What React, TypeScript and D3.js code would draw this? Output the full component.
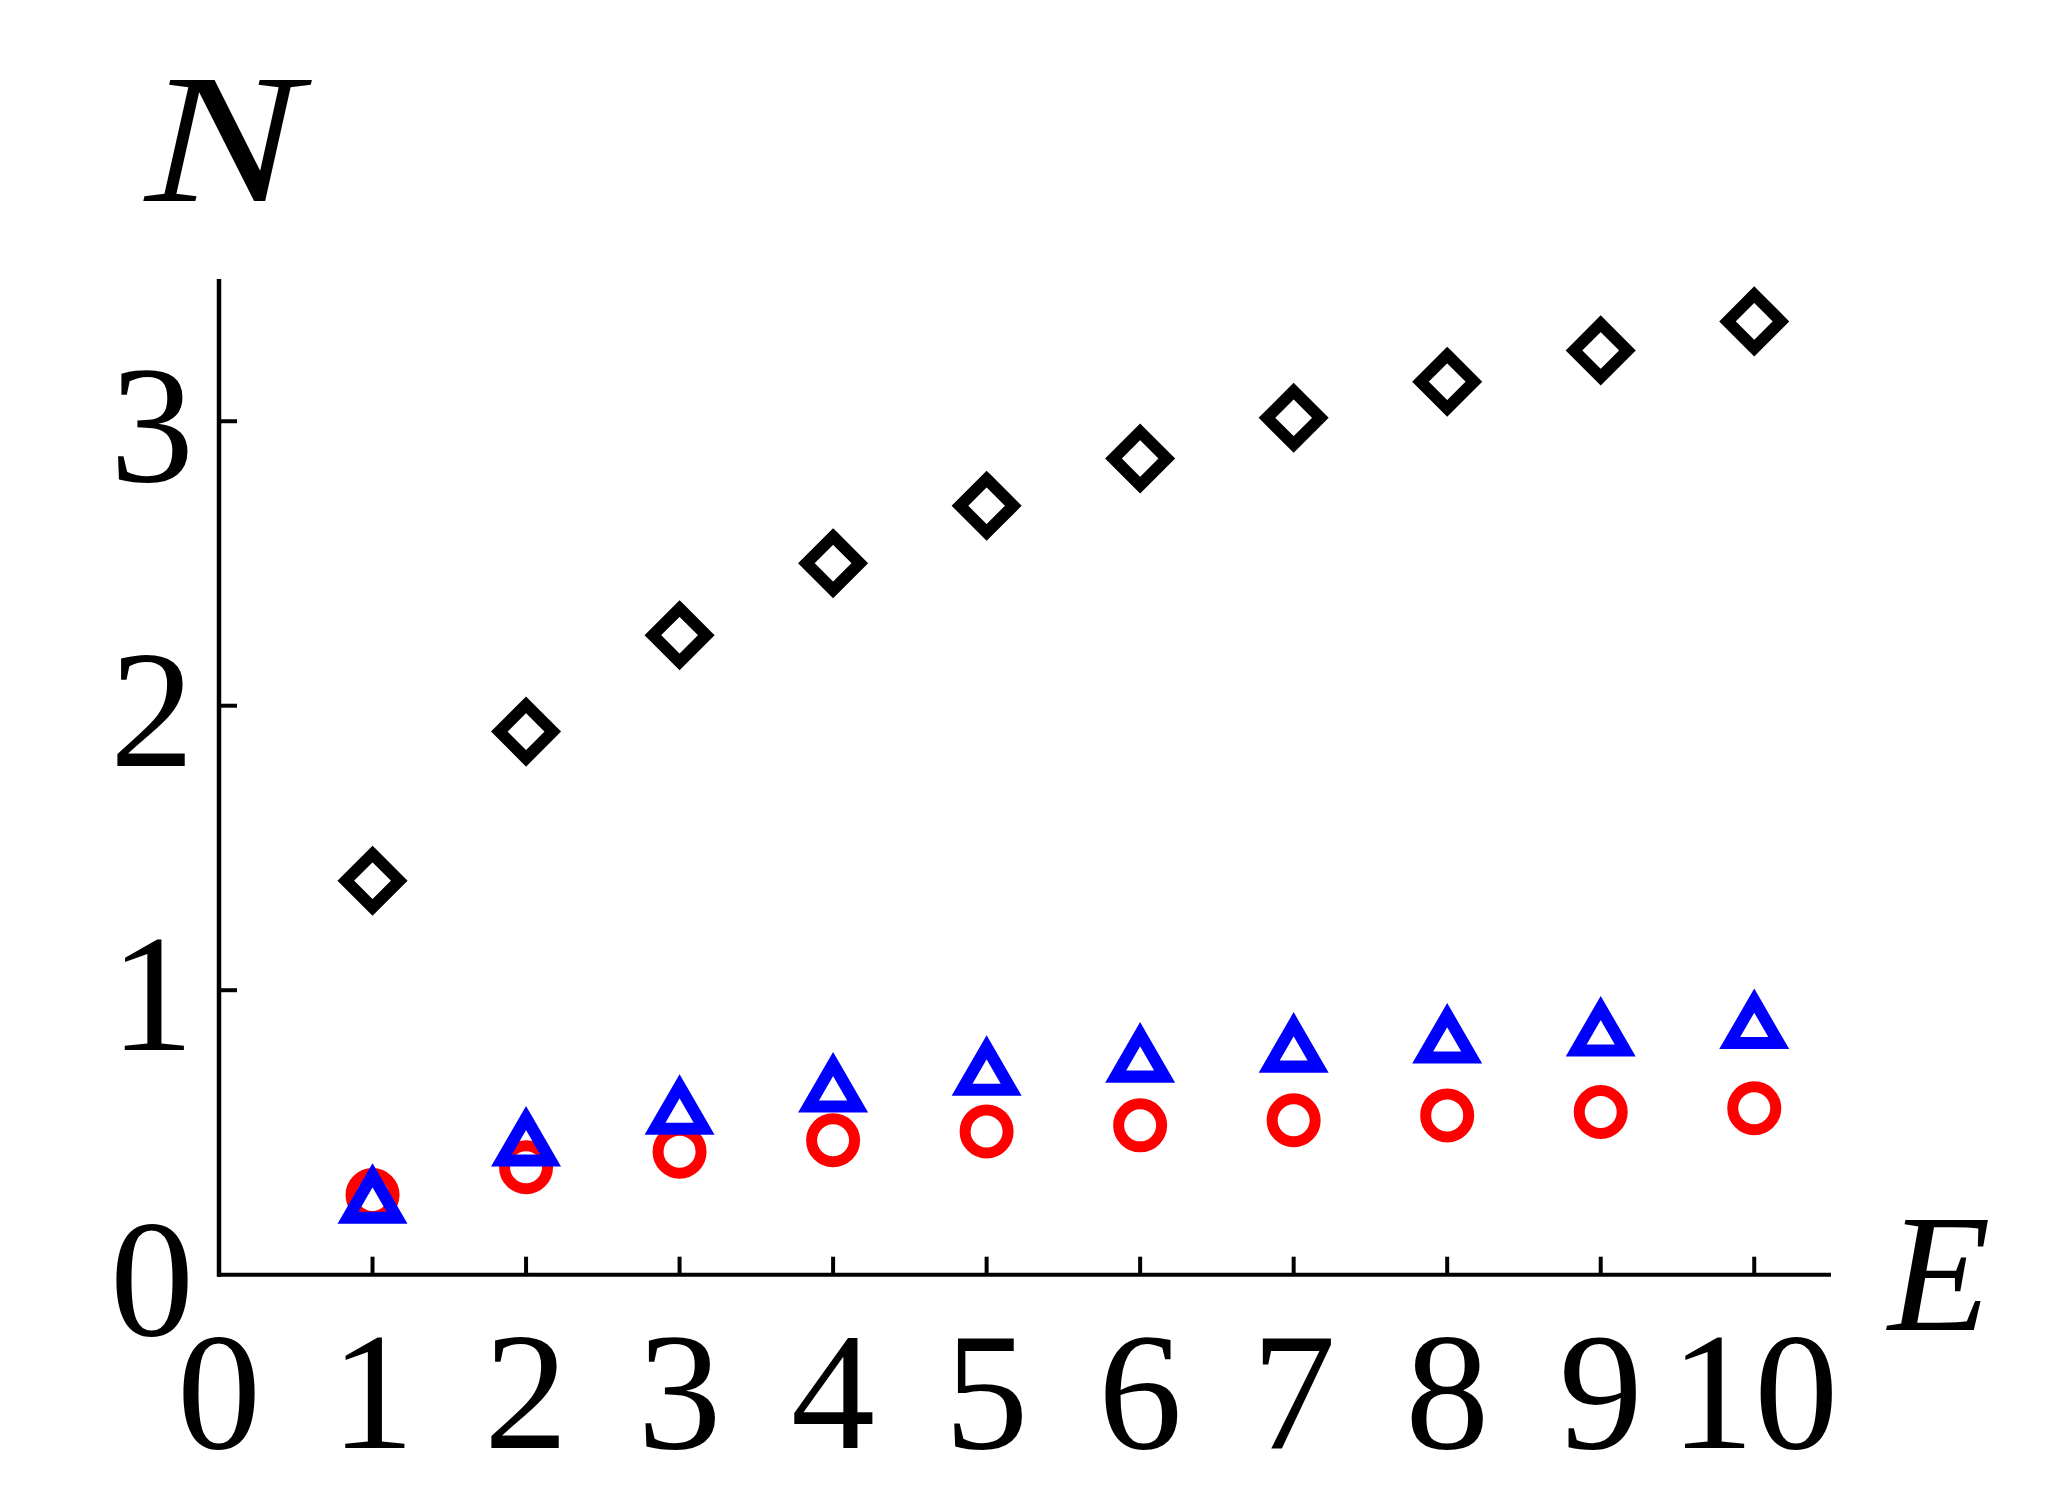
import React from "react";
import * as d3 from "d3";

const energies = [1, 2, 3, 4, 5, 6, 7, 8, 9, 10];
const diamondSeries = [1.385, 1.909, 2.248, 2.501, 2.703, 2.869, 3.012, 3.139, 3.249, 3.351];
const triangleSeries = [0.25, 0.451, 0.563, 0.641, 0.7, 0.746, 0.781, 0.813, 0.838, 0.864];
const circleSeries = [0.28, 0.378, 0.4325, 0.4725, 0.5035, 0.525, 0.543, 0.56, 0.572, 0.585];
const xTickValues = [0, 1, 2, 3, 4, 5, 6, 7, 8, 9, 10];
const yTickValues = [0, 1, 2, 3];

const W = 2059;
const H = 1511;
const FONT = '"Liberation Serif", Tinos, "Times New Roman", "DejaVu Serif Condensed", "DejaVu Serif", serif';

export default function App() {
  const x = d3.scaleLinear().domain([0, 10.5]).range([219, 1831]);
  const y = d3.scaleLinear().domain([0, 3.5]).range([1274.7, 279]);

  const diamondPath = (cx: number, cy: number) => {
    const r = 26.7;
    const p = d3.path();
    p.moveTo(cx, cy - r);
    p.lineTo(cx + r, cy);
    p.lineTo(cx, cy + r);
    p.lineTo(cx - r, cy);
    p.closePath();
    return p.toString();
  };
  const trianglePath = (cx: number, cy: number) => {
    const R = 28.3;
    const p = d3.path();
    p.moveTo(cx, cy - R);
    p.lineTo(cx + R * Math.cos(Math.PI / 6), cy + R / 2);
    p.lineTo(cx - R * Math.cos(Math.PI / 6), cy + R / 2);
    p.closePath();
    return p.toString();
  };

  const x0 = x(0);
  const y0 = y(0);
  const textStyle = { fontFamily: FONT, fontStretch: "condensed" } as React.CSSProperties;

  return (
    <svg
      width={W}
      height={H}
      style={{ position: "absolute", left: 0, top: 0, background: "#fff" }}
    >
      <rect x={0} y={0} width={W} height={H} fill="#fff" />
      {/* axes */}
      <line x1={x0} y1={y(3.5)} x2={x0} y2={y0 + 2} stroke="#000" strokeWidth={4.5} />
      <line x1={x0 - 2} y1={y0} x2={x(10.5)} y2={y0} stroke="#000" strokeWidth={4} />
      {xTickValues.filter((v) => v > 0).map((v) => (
        <line key={"xt" + v} x1={x(v)} x2={x(v)} y1={y0} y2={y0 - 18} stroke="#000" strokeWidth={4} />
      ))}
      {yTickValues.filter((v) => v > 0).map((v) => (
        <line key={"yt" + v} x1={x0} x2={x0 + 18} y1={y(v)} y2={y(v)} stroke="#000" strokeWidth={4} />
      ))}
      {/* tick labels */}
      {xTickValues.map((v) => (
        <text key={"xl" + v} x={x(v)} y={1448} textAnchor="middle" style={textStyle} fontSize={168} fill="#000">
          {v}
        </text>
      ))}
      {yTickValues.map((v) => (
        <text key={"yl" + v} x={194} y={y(v) + 60} textAnchor="end" style={textStyle} fontSize={168} fill="#000">
          {v}
        </text>
      ))}
      {/* axis labels */}
      <text x={145} y={201} style={textStyle} fontStyle="italic" fontSize={184} fill="#000" textLength={156} lengthAdjust="spacingAndGlyphs">
        N
      </text>
      <text x={1888} y={1330} style={textStyle} fontStyle="italic" fontSize={168} fill="#000">
        E
      </text>
      {/* series */}
      {energies.map((e, i) => (
        <path key={"d" + i} d={diamondPath(x(e), y(diamondSeries[i]))} fill="none" stroke="#000" strokeWidth={11.8} strokeLinejoin="miter" />
      ))}
      {energies.map((e, i) => (
        <circle key={"c" + i} cx={x(e)} cy={y(circleSeries[i])} r={21.5} fill="none" stroke="#FF0000" strokeWidth={11} />
      ))}
      {energies.map((e, i) => (
        <path key={"t" + i} d={trianglePath(x(e), y(triangleSeries[i]))} fill="none" stroke="#0000FF" strokeWidth={12.1} strokeLinejoin="miter" />
      ))}
    </svg>
  );
}
